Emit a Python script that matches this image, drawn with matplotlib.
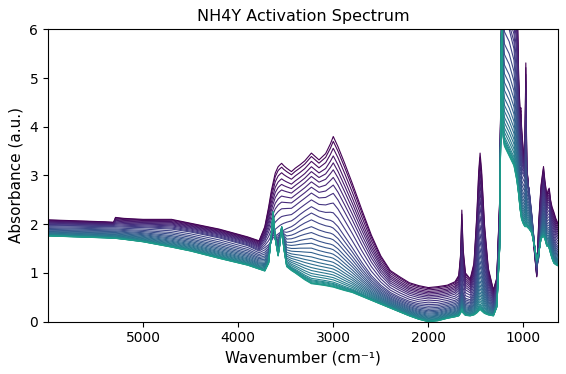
import matplotlib
matplotlib.use("Agg")
import matplotlib.pyplot as plt
import numpy as np

# Anchor wavenumbers (cm-1)
wavenumber = [6000, 5700, 5400, 5310, 5290, 5200, 5000, 4700, 4500, 4200, 3900,
              3780, 3720, 3680, 3650, 3633, 3610, 3580, 3560, 3543, 3520, 3490,
              3440, 3400, 3350, 3300, 3230, 3150, 3080, 3030, 3000, 2950, 2880,
              2800, 2700, 2600, 2500, 2400, 2300, 2200, 2100, 2000, 1900, 1800,
              1720, 1680, 1660, 1648, 1635, 1610, 1560, 1520, 1490, 1470, 1456,
              1440, 1410, 1370, 1316, 1280, 1250, 1228, 1215, 1200, 1150, 1100,
              1070, 1050, 1035, 1027, 1020, 1000, 985, 975, 965, 940, 912, 880,
              860, 840, 815, 795, 789, 775, 754, 740, 729, 715, 700, 680, 660, 640]

# darkest (first) spectrum
absorb_top = [2.09, 2.07, 2.05, 2.04, 2.14, 2.12, 2.10, 2.10, 2.02, 1.90, 1.74,
              1.66, 1.95, 2.35, 2.70, 2.85, 3.05, 3.18, 3.22, 3.25, 3.20, 3.15,
              3.08, 3.15, 3.22, 3.30, 3.46, 3.32, 3.45, 3.65, 3.80, 3.59, 3.25,
              2.84, 2.30, 1.78, 1.35, 1.05, 0.92, 0.80, 0.74, 0.70, 0.72, 0.75,
              0.82, 0.95, 1.40, 2.29, 1.50, 1.00, 0.88, 1.20, 2.20, 3.10, 3.46,
              3.10, 2.00, 1.10, 0.65, 0.90, 2.50, 6.50, 7.00, 7.00, 7.00, 7.00,
              7.00, 5.00, 4.30, 4.39, 4.00, 3.46, 3.40, 5.31, 3.20, 2.60, 2.00, 1.33,
              0.92, 2.03, 2.80, 3.10, 3.18, 2.90, 2.60, 2.70, 2.74, 2.50, 2.36, 2.25, 2.12, 2.03]

# a middle spectrum (blue)
absorb_mid = [1.97, 1.96, 1.95, 1.95, 1.95, 1.94, 1.93, 1.90, 1.84, 1.72, 1.56,
              1.45, 1.52, 1.58, 1.66, 1.72, 1.76, 1.80, 1.83, 1.85, 1.88, 1.91,
              1.95, 2.00, 2.08, 2.15, 2.23, 2.15, 2.10, 2.08, 2.05, 1.95, 1.75,
              1.52, 1.22, 0.95, 0.75, 0.60, 0.50, 0.42, 0.37, 0.35, 0.36, 0.40,
              0.44, 0.48, 0.60, 0.80, 0.60, 0.48, 0.45, 0.60, 1.10, 1.60, 1.80,
              1.60, 1.05, 0.60, 0.38, 0.60, 2.00, 6.50, 6.80, 6.20, 6.00, 5.60,
              4.80, 3.80, 3.30, 3.40, 3.10, 3.00, 2.95, 3.60, 2.90, 2.70, 2.20, 1.50,
              1.10, 1.30, 2.00, 2.45, 2.50, 2.35, 2.10, 2.15, 2.15, 2.00, 1.85, 1.70, 1.60, 1.55]

# lightest (last) spectrum, teal
absorb_bottom = [1.76, 1.74, 1.72, 1.71, 1.71, 1.69, 1.64, 1.53, 1.45, 1.30, 1.16,
                 1.08, 1.04, 1.20, 1.80, 2.26, 1.70, 1.35, 1.60, 1.95, 1.50, 1.13,
                 1.05, 1.00, 0.93, 0.86, 0.78, 0.76, 0.74, 0.72, 0.71, 0.68, 0.64,
                 0.60, 0.52, 0.44, 0.36, 0.28, 0.20, 0.12, 0.05, 0.00, 0.02, 0.07,
                 0.10, 0.12, 0.18, 0.25, 0.18, 0.13, 0.12, 0.14, 0.18, 0.22, 0.25,
                 0.22, 0.17, 0.14, 0.12, 0.30, 1.50, 6.50, 3.80, 3.60, 3.40, 3.20,
                 2.90, 2.60, 2.30, 2.20, 2.10, 2.00, 1.95, 1.95, 1.95, 1.90, 1.82, 1.50,
                 1.27, 1.40, 1.70, 1.75, 1.75, 1.70, 1.55, 1.55, 1.50, 1.40, 1.30, 1.20, 1.17, 1.15]

# absorbance of every spectrum at the 3230 cm-1 band, top to bottom
peak_3230 = [3.46, 3.39, 3.29, 3.18, 3.08, 2.98, 2.87, 2.76, 2.64, 2.50, 2.36,
             2.23, 2.09, 1.95, 1.83, 1.71, 1.61, 1.51, 1.42, 1.33, 1.25, 1.18,
             1.11, 1.05, 0.99, 0.94, 0.89, 0.86, 0.84, 0.82, 0.80, 0.79, 0.78]

wn = np.array(wavenumber)
top = np.array(absorb_top)
mid = np.array(absorb_mid)
bot = np.array(absorb_bottom)
i_ref = wavenumber.index(3230)

fig = plt.figure(figsize=(5.66, 3.74), dpi=100)
ax = fig.add_axes([0.0848, 0.1398, 0.9005, 0.7819])

colors = plt.cm.viridis(np.linspace(0, 0.55, len(peak_3230)))
for level, c in zip(peak_3230, colors):
    if level >= mid[i_ref]:
        t = (level - mid[i_ref]) / (top[i_ref] - mid[i_ref])
        spec = mid + t * (top - mid)
    else:
        t = (level - bot[i_ref]) / (mid[i_ref] - bot[i_ref])
        spec = bot + t * (mid - bot)
    ax.plot(wn, spec, color=c, lw=0.8)

ax.set_xlim(6000, 640)
ax.set_ylim(0, 6)
ax.set_xticks([5000, 4000, 3000, 2000, 1000])
ax.set_xlabel("Wavenumber (cm⁻¹)", fontsize=11)
ax.set_ylabel("Absorbance (a.u.)", fontsize=11)
ax.set_title("NH4Y Activation Spectrum", fontsize=11.5)

fig.savefig("out.png", dpi=100)
